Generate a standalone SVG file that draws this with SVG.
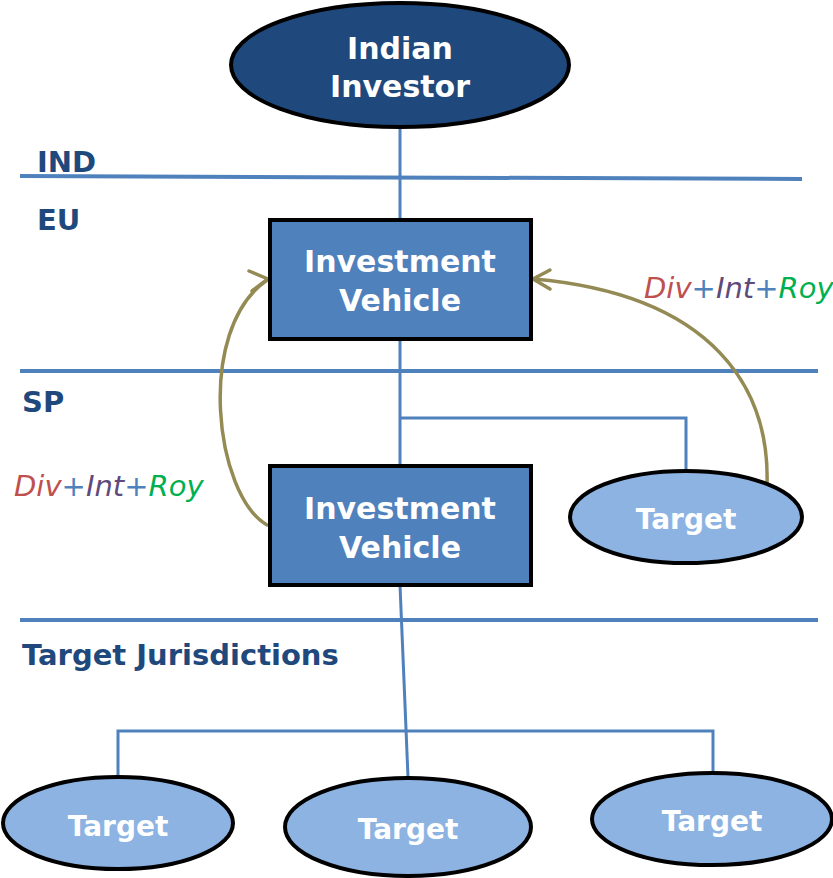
<svg xmlns="http://www.w3.org/2000/svg" width="833" height="878" viewBox="0 0 833 878">
  <defs>
    <style>
      .lbl { font-family: "DejaVu Sans", "Liberation Sans", sans-serif; font-weight: bold; }
      .node-t { fill: #FFFFFF; font-size: 30px; text-anchor: middle; }
      .tgt-t { fill: #FFFFFF; font-size: 28px; text-anchor: middle; }
      .zone { fill: #1F497D; font-size: 29px; }
      .div { fill: none; stroke: #4F81BD; stroke-width: 4; }
      .link { fill: none; stroke: #4F81BD; stroke-width: 3; }
      .flow { fill: none; stroke: #948A54; stroke-width: 3.5; stroke-linecap: round; stroke-linejoin: round; }
      .box { fill: #4F81BD; stroke: #000; stroke-width: 4; }
      .tgt { fill: #8DB3E2; stroke: #000; stroke-width: 4; }
      .inc { font-family: "DejaVu Sans", "Liberation Sans", sans-serif; font-style: italic; font-size: 29px; }
      .r { fill: #C0504D; } .b { fill: #4F81BD; } .p { fill: #604A7B; } .g { fill: #00B050; }
    </style>
  </defs>

  <!-- jurisdiction dividers and labels -->
  <g id="zones">
    <line class="div" x1="20" y1="176" x2="802" y2="179"/>
    <line class="div" x1="20" y1="371" x2="818" y2="371"/>
    <line class="div" x1="20" y1="620" x2="818" y2="620"/>
    <text class="lbl zone" x="37" y="172">IND</text>
    <text class="lbl zone" x="37" y="230">EU</text>
    <text class="lbl zone" x="22" y="412">SP</text>
    <text class="lbl zone" x="22" y="665">Target Jurisdictions</text>
  </g>

  <!-- ownership and income connectors -->
  <g id="connectors">
    <line class="link" x1="400" y1="126" x2="400" y2="220"/>
    <line class="link" x1="400" y1="339" x2="400" y2="466"/>
    <polyline class="link" points="400,418 686,418 686,471"/>
    <line class="link" x1="400" y1="585" x2="408" y2="777"/>
    <polyline class="link" points="118,779 118,731 713,731 713,775"/>
    <!-- income flowing up from the SP vehicle -->
    <path class="flow" d="M267 525 C 215 495, 195 330, 267 280"/>
    <polyline class="flow" points="249,271 268,279 252,291"/>
    <!-- income flowing up from the SP target -->
    <path class="flow" d="M767 485 C 770 390, 715 295, 534 279"/>
    <polyline class="flow" points="550,270 533,279 550,289"/>
  </g>

  <g id="income-left">
    <text class="inc" x="14" y="496"><tspan class="r">Div</tspan><tspan class="b">+</tspan><tspan class="p">Int</tspan><tspan class="b">+</tspan><tspan class="g">Roy</tspan></text>
  </g>
  <g id="income-right">
    <text class="inc" x="644" y="298"><tspan class="r">Div</tspan><tspan class="b">+</tspan><tspan class="p">Int</tspan><tspan class="b">+</tspan><tspan class="g">Roy</tspan></text>
  </g>

  <g id="indian-investor">
    <ellipse cx="400" cy="65" rx="169" ry="62" fill="#1F497D" stroke="#000" stroke-width="4"/>
    <text class="lbl node-t" x="400" y="59">Indian</text>
    <text class="lbl node-t" x="400" y="97">Investor</text>
  </g>

  <g id="vehicle-eu">
    <rect class="box" x="270" y="220" width="261" height="119"/>
    <text class="lbl node-t" x="400" y="272">Investment</text>
    <text class="lbl node-t" x="400" y="311">Vehicle</text>
  </g>

  <g id="vehicle-sp">
    <rect class="box" x="270" y="466" width="261" height="119"/>
    <text class="lbl node-t" x="400" y="519">Investment</text>
    <text class="lbl node-t" x="400" y="558">Vehicle</text>
  </g>

  <g id="target-sp">
    <ellipse class="tgt" cx="686" cy="517" rx="116" ry="46"/>
    <text class="lbl tgt-t" x="686" y="529">Target</text>
  </g>

  <g id="target-1">
    <ellipse class="tgt" cx="118" cy="823" rx="115" ry="46"/>
    <text class="lbl tgt-t" x="118" y="836">Target</text>
  </g>

  <g id="target-2">
    <ellipse class="tgt" cx="408" cy="827" rx="123" ry="49"/>
    <text class="lbl tgt-t" x="408" y="839">Target</text>
  </g>

  <g id="target-3">
    <ellipse class="tgt" cx="712" cy="819" rx="120" ry="46"/>
    <text class="lbl tgt-t" x="712" y="831">Target</text>
  </g>
</svg>
